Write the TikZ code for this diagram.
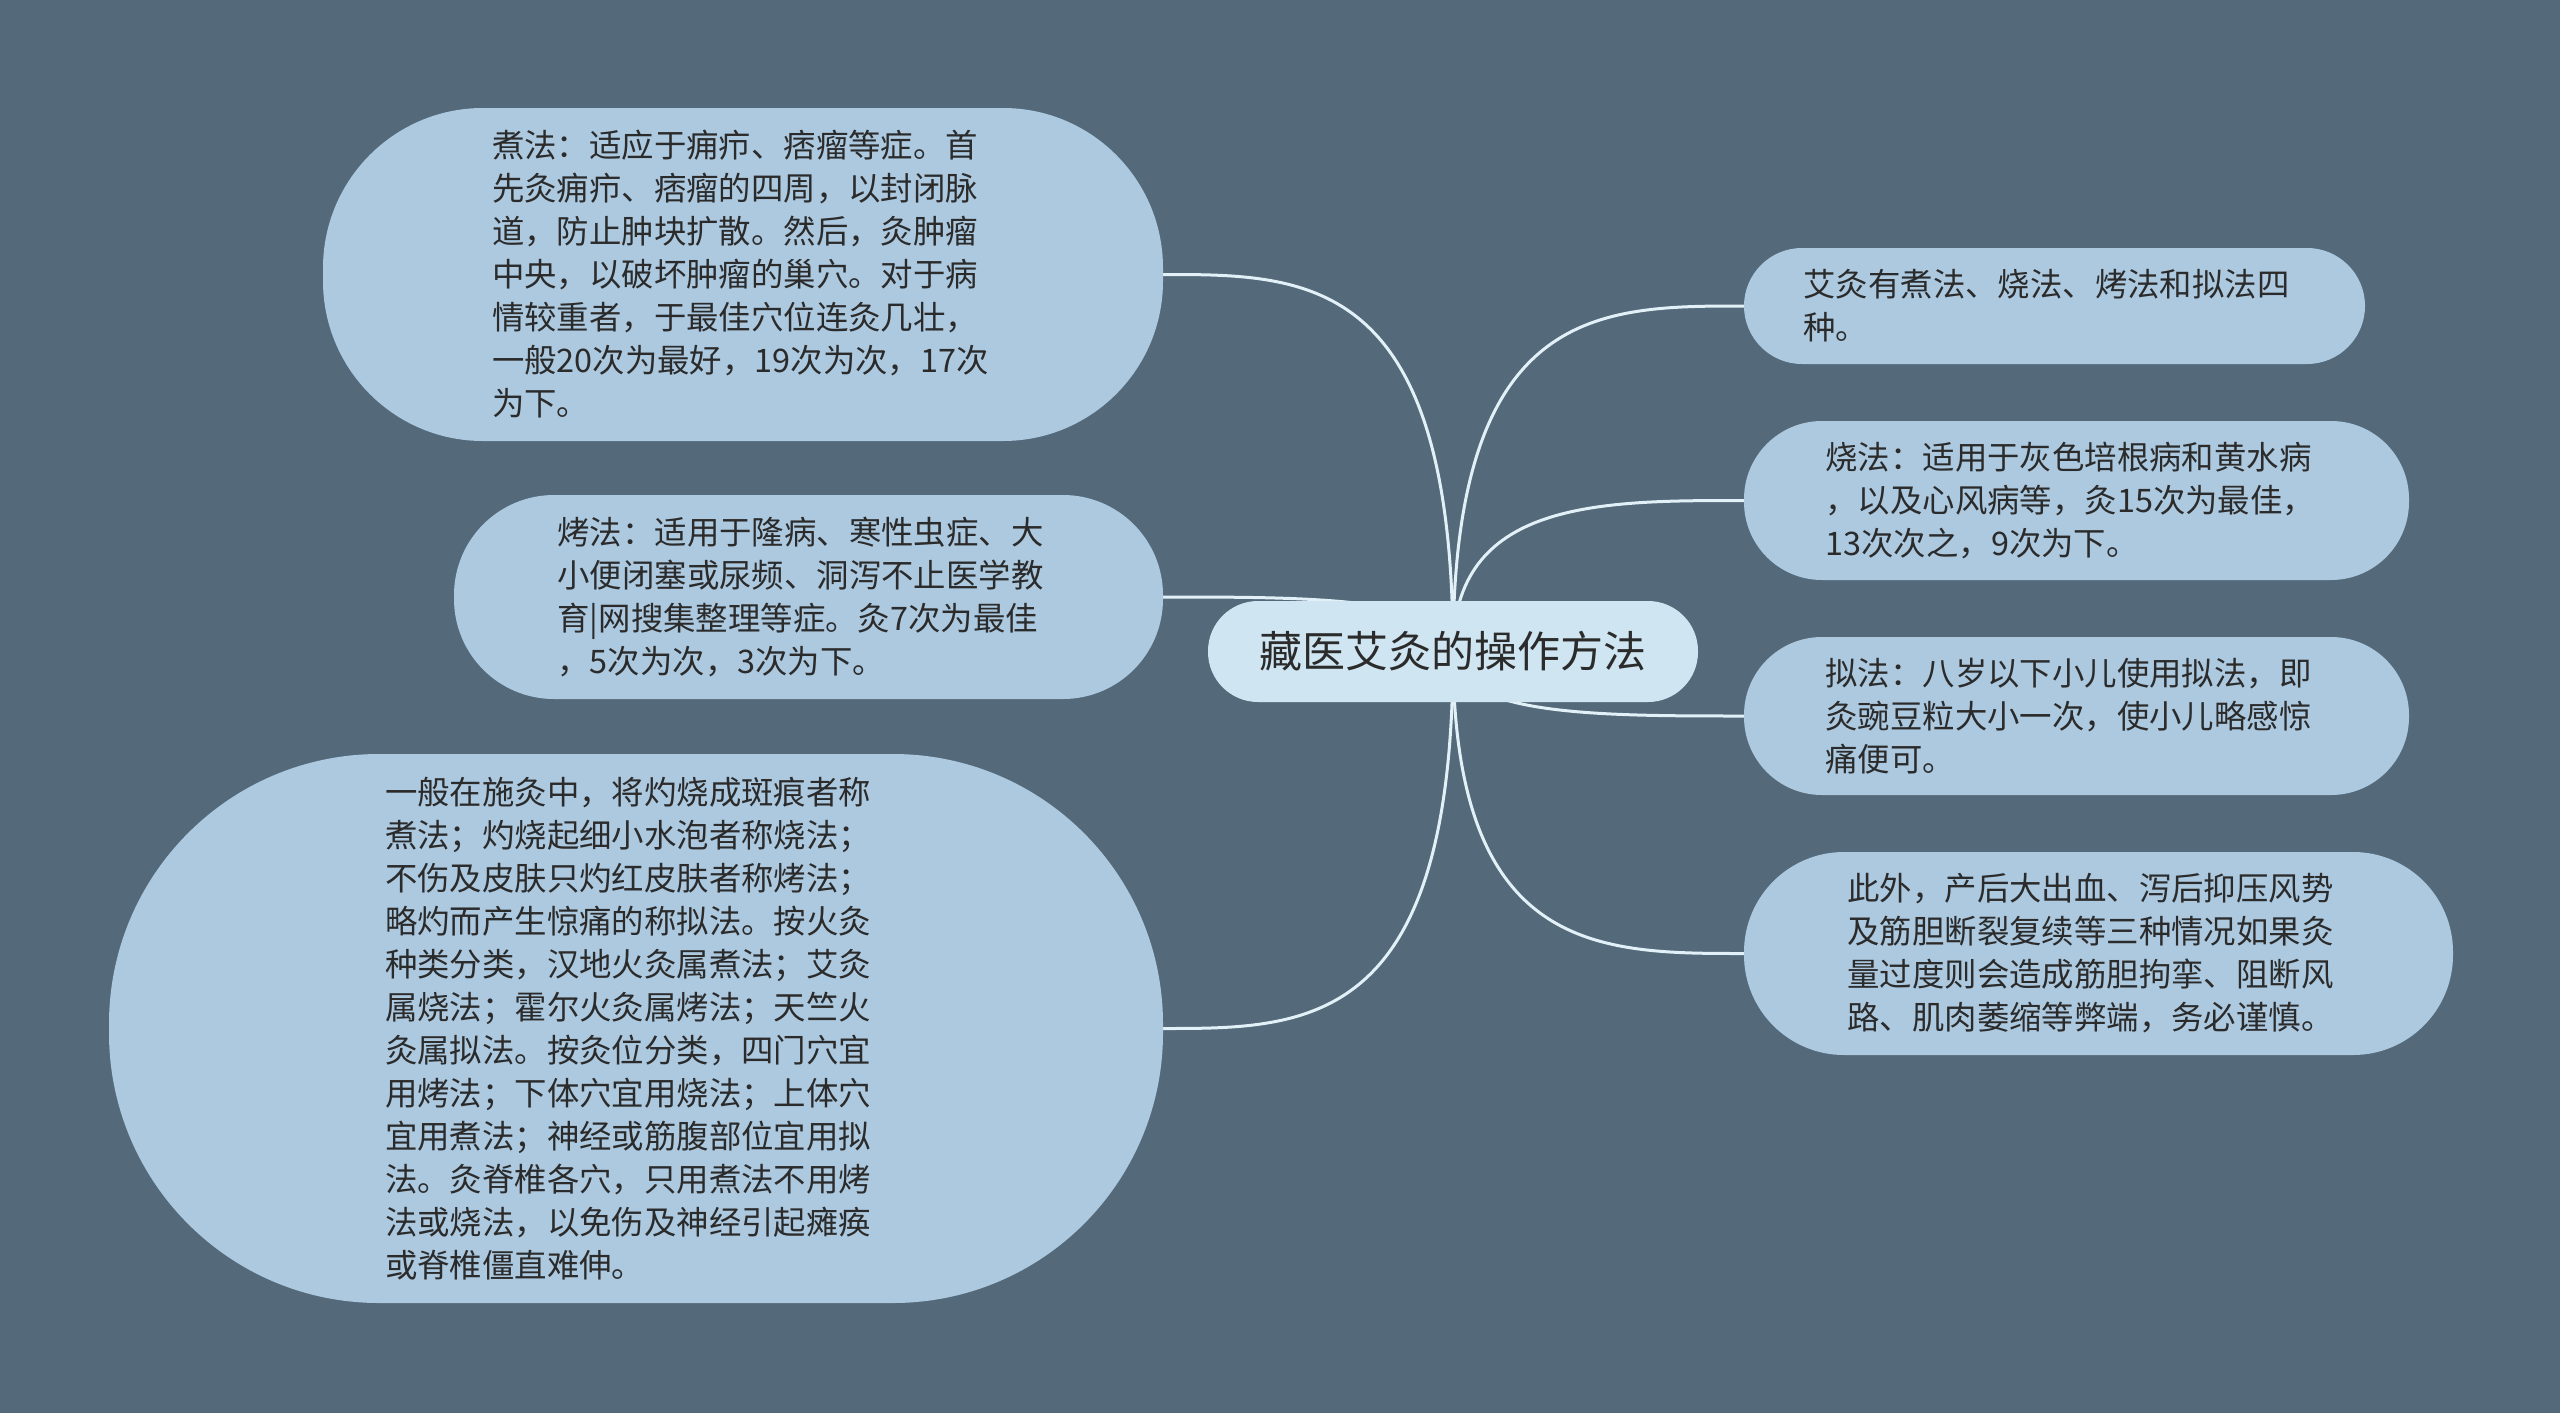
\documentclass[tikz,border=0pt]{standalone}
\usepackage{fontspec}
\setmainfont{Noto Sans CJK SC}
\usetikzlibrary{calc,backgrounds}
\definecolor{bg}{HTML}{546A7A}
\definecolor{boxfill}{HTML}{ACC9E0}
\definecolor{rootfill}{HTML}{CFE6F2}
\definecolor{linkcol}{HTML}{E2F0F8}
\definecolor{txt}{HTML}{2B2B2B}
\begin{document}
\begin{tikzpicture}[x=1pt,y=-1pt,
  leaf/.style={fill=boxfill, text=txt, inner sep=0pt, align=left, text width=502pt,
    font=\fontsize{32.4}{43}\selectfont},
  rootbox/.style={fill=rootfill, text=txt, inner sep=0pt,
    minimum width=490pt, minimum height=101pt, rounded corners=50pt,
    font=\fontsize{43}{50}\selectfont},
  link/.style={draw=linkcol, line width=3pt}]
\useasboundingbox (0,0) rectangle (2560,1413);

\node[rootbox] (root) at (1453,651.5) {藏医艾灸的操作方法};

\node[leaf, minimum width=840pt, minimum height=333pt, rounded corners=160pt] (n1) at (743,274.5)
{煮法：适应于痈疖、痞瘤等症。首\\先灸痈疖、痞瘤的四周，以封闭脉\\道，防止肿块扩散。然后，灸肿瘤\\中央，以破坏肿瘤的巢穴。对于病\\情较重者，于最佳穴位连灸几壮，\\一般20次为最好，19次为次，17次\\为下。};

\node[leaf, minimum width=709pt, minimum height=204pt, rounded corners=100pt] (n2) at (808.5,597)
{烤法：适用于隆病、寒性虫症、大\\小便闭塞或尿频、洞泻不止医学教\\育|网搜集整理等症。灸7次为最佳\\，5次为次，3次为下。};

\node[leaf, minimum width=1054pt, minimum height=549pt, rounded corners=270pt] (n3) at (636,1028.5)
{一般在施灸中，将灼烧成斑痕者称\\煮法；灼烧起细小水泡者称烧法；\\不伤及皮肤只灼红皮肤者称烤法；\\略灼而产生惊痛的称拟法。按火灸\\种类分类，汉地火灸属煮法；艾灸\\属烧法；霍尔火灸属烤法；天竺火\\灸属拟法。按灸位分类，四门穴宜\\用烤法；下体穴宜用烧法；上体穴\\宜用煮法；神经或筋腹部位宜用拟\\法。灸脊椎各穴，只用煮法不用烤\\法或烧法，以免伤及神经引起瘫痪\\或脊椎僵直难伸。};

\node[leaf, minimum width=621pt, minimum height=116pt, rounded corners=58pt] (n4) at (2054.5,306)
{艾灸有煮法、烧法、烤法和拟法四\\种。};

\node[leaf, minimum width=665pt, minimum height=159pt, rounded corners=78pt] (n5) at (2076.5,500.5)
{烧法：适用于灰色培根病和黄水病\\，以及心风病等，灸15次为最佳，\\13次次之，9次为下。};

\node[leaf, minimum width=665pt, minimum height=158pt, rounded corners=78pt] (n6) at (2076.5,716)
{拟法：八岁以下小儿使用拟法，即\\灸豌豆粒大小一次，使小儿略感惊\\痛便可。};

\node[leaf, minimum width=709pt, minimum height=203pt, rounded corners=100pt] (n7) at (2098.5,953.5)
{此外，产后大出血、泻后抑压风势\\及筋胆断裂复续等三种情况如果灸\\量过度则会造成筋胆拘挛、阻断风\\路、肌肉萎缩等弊端，务必谨慎。};

\begin{scope}[on background layer]
\fill[bg] (0,0) rectangle (2560,1413);
\foreach \c/\a in {n1/east,n2/east,n3/east,n4/west,n5/west,n6/west,n7/west}{
  \draw[link] (root.center) .. controls (root.center |- \c.\a) and ($(root.center |- \c.\a)!0.5!(\c.\a)$) .. (\c.\a);
}
\end{scope}
\end{tikzpicture}
\end{document}
